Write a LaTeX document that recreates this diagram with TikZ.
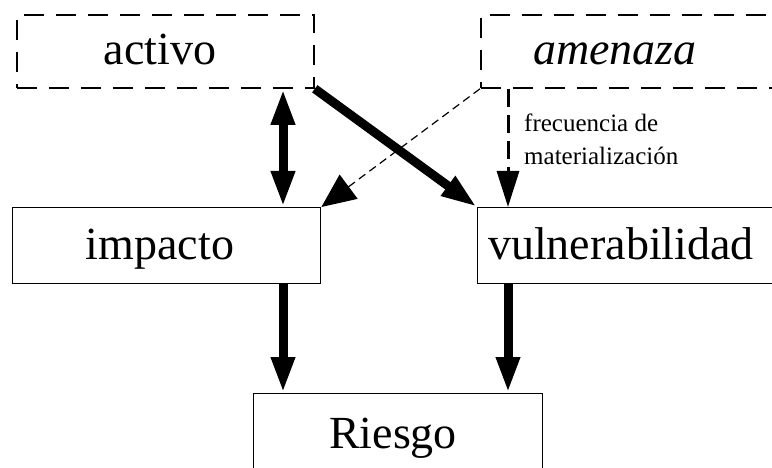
\documentclass[tikz,border=0pt]{standalone}
\usepackage{fontspec}
\setmainfont{Liberation Serif}
\usetikzlibrary{arrows.meta}
\begin{document}
\begin{tikzpicture}[x=1pt,y=-1pt,
  dashbox/.style={draw, dash pattern=on 20pt off 12pt, line width=1.8pt, inner sep=0pt, anchor=north west},
  solidbox/.style={draw, line width=1.4pt, inner sep=0pt, anchor=north west},
  bigtext/.style={inner sep=0pt, anchor=base, font=\fontsize{46}{50}\selectfont},
  smalltext/.style={inner sep=0pt, anchor=base west, font=\fontsize{25}{28}\selectfont},
  headtip/.tip={Triangle[length=36pt,width=22pt]},
  thick arrow/.style={line width=9pt, -{headtip}},
  both arrow/.style={line width=9pt, {headtip}-{headtip}},
  thin dashed arrow/.style={line width=1.2pt, dash pattern=on 8pt off 5pt, -{Triangle[length=34pt,width=30pt]}},
  mid dashed arrow/.style={line width=3pt, dash pattern=on 18pt off 8pt, -{Triangle[length=36pt,width=22pt]}}]
\useasboundingbox (0,0) rectangle (772,468);
\clip (0,0) rectangle (772,468);
\fill[white] (0,0) rectangle (772,468);

% boxes
\node[dashbox, minimum width=297pt, minimum height=73pt] (activo) at (16,14) {};
\node[dashbox, minimum width=330pt, minimum height=73pt] (amenaza) at (480,14) {};
\node[solidbox, minimum width=308pt, minimum height=76pt] (impacto) at (12,207) {};
\node[solidbox, minimum width=330pt, minimum height=76pt] (vuln) at (477,207) {};
\node[solidbox, minimum width=289pt, minimum height=110pt] (riesgo) at (253,393) {};

% box texts
\node[bigtext] (tactivo) at (160,65) {activo};
\node[bigtext] (tamenaza) at (615,65) {\itshape amenaza};
\node[bigtext] (timpacto) at (160,259) {impacto};
\node[bigtext] (tvuln) at (621,259) {vulnerabilidad};
\node[bigtext] (triesgo) at (393,448) {Riesgo};
\node[smalltext] (tfrec1) at (524,132) {frecuencia de};
\node[smalltext] (tfrec2) at (524,165) {materialización};

% connector columns
\coordinate (cl) at (283,0);
\coordinate (cr) at (508,0);

% connectors
\draw[both arrow] (activo.south -| cl) -- (impacto.north -| cl);
\draw[thick arrow] (activo.south east) -- (vuln.north west);
\draw[thin dashed arrow] (amenaza.south west) -- (impacto.north east);
\draw[mid dashed arrow] (amenaza.south -| cr) -- (vuln.north -| cr);
\draw[thick arrow] (impacto.south -| cl) -- (riesgo.north -| cl);
\draw[thick arrow] (vuln.south -| cr) -- (riesgo.north -| cr);
\end{tikzpicture}
\end{document}
